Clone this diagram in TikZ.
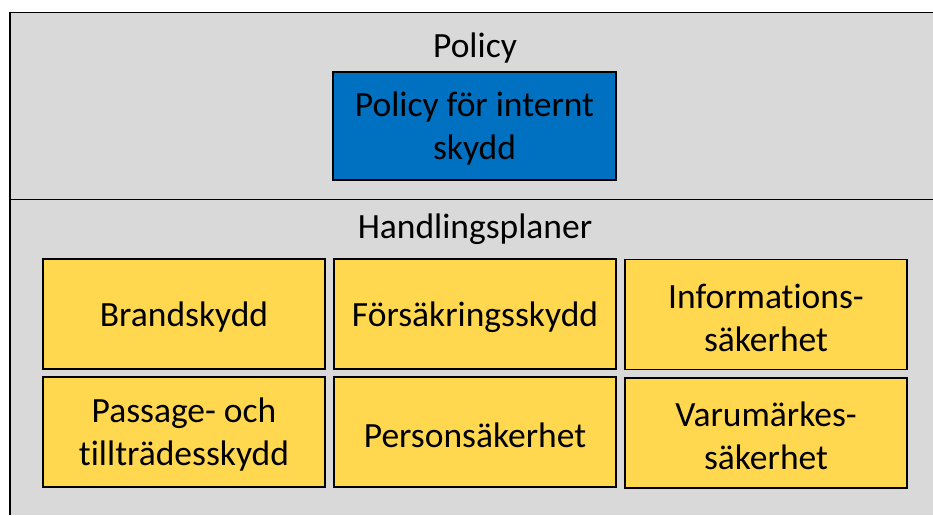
\documentclass[tikz,border=0pt]{standalone}
\usepackage{fontspec}
\setmainfont[Ligatures=NoCommon]{Carlito}
\definecolor{bggray}{RGB}{217,217,217}
\definecolor{polblue}{RGB}{0,112,192}
\definecolor{planyellow}{RGB}{255,216,80}
\begin{document}
\begin{tikzpicture}[x=1pt,y=-1pt,
  lbl/.style={font=\fontsize{35.5}{43}\selectfont, align=center, inner sep=0pt},
  box/.style={draw=black, line width=1.3pt, minimum width=282pt, minimum height=110pt, inner sep=0pt},
  pbox/.style={box, fill=polblue},
  ybox/.style={box, fill=planyellow},
  txt/.style={lbl, yshift=-3pt}]
\useasboundingbox (0,0) rectangle (933,515);
\fill[white] (0,0) rectangle (933,515);
\fill[bggray] (10,12) rectangle (933,515);
\draw[line width=1.6pt] (10,515) -- (10,12.5) -- (933,12.5);
\draw[line width=1pt] (10,199) -- (933,199);
\node[lbl] (policy) at (475,48) {Policy};
\node[lbl] (hp) at (475,229) {Handlingsplaner};
\node[pbox, minimum width=283pt, minimum height=108pt] (intern) at (474.5,126) {};
\node[ybox] (brand) at (184,314) {};
\node[ybox] (fors) at (475,314) {};
\node[ybox] (info) at (766,314.5) {};
\node[ybox] (pass) at (184,432) {};
\node[ybox] (pers) at (475,432) {};
\node[ybox] (varu) at (766,433) {};
\node[txt] (internt) at (intern.center) {Policy för internt\\skydd};
\node[txt] (brandt) at (brand.center) {Brandskydd};
\node[txt] (forst) at (fors.center) {Försäkringsskydd};
\node[txt] (infot) at (info.center) {Informations-\\säkerhet};
\node[txt] (passt) at (pass.center) {Passage- och\\tillträdesskydd};
\node[txt] (perst) at (pers.center) {Personsäkerhet};
\node[txt] (varut) at (varu.center) {Varumärkes-\\säkerhet};
\end{tikzpicture}
\end{document}
